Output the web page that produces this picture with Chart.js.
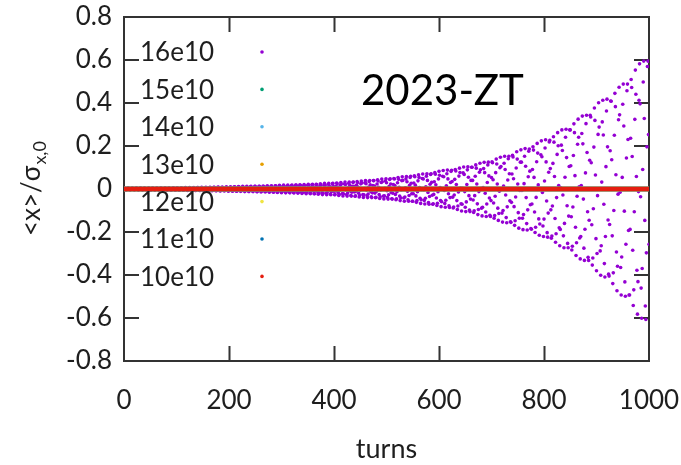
<!DOCTYPE html>
<html><head><meta charset="utf-8">
<script src="https://cdn.jsdelivr.net/npm/chart.js@4/dist/chart.umd.min.js"></script>
<style>html,body{margin:0;padding:0;background:#fff;}canvas{display:block;}</style>
</head><body>
<canvas id="c" width="681" height="465"></canvas>
<script>
// ---------- data ----------
const seriesLabels = ['16e10','15e10','14e10','13e10','12e10','11e10','10e10'];
const seriesColors = ['#9400d3','#009e73','#56b4e9','#e69f00','#f0e442','#0072b2','#e51e10'];

// 16e10 : <x>/sigma_x,0 at every turn, turns 0..1000
const y16e10 = [
.004,.003,0,-.002,-.004,-.003,0,.003,
.004,.003,0,-.003,-.004,-.002,.001,.003,
.004,.002,-.001,-.003,-.004,-.002,.001,.004,
.004,.002,-.002,-.004,-.004,-.001,.002,.004,
.004,.001,-.002,-.004,-.003,-.001,.003,.004,
.003,0,-.003,-.004,-.003,0,.003,.004,
.003,-.001,-.004,-.005,-.003,.001,.004,.005,
.002,-.001,-.004,-.005,-.002,.002,.004,.004,
.002,-.002,-.005,-.004,-.001,.003,.005,.004,
.001,-.003,-.005,-.004,-.001,.003,.005,.004,
0,-.004,-.006,-.004,0,.004,.005,.003,
-.001,-.005,-.006,-.003,.001,.005,.006,.003,
-.002,-.005,-.006,-.002,.002,.006,.005,.002,
-.003,-.006,-.005,-.002,.003,.006,.005,.001,
-.004,-.006,-.005,0,.004,.007,.005,0,
-.005,-.007,-.004,.001,.005,.007,.004,-.001,
-.006,-.007,-.004,.002,.006,.007,.003,-.002,
-.007,-.007,-.003,.003,.007,.007,.002,-.004,
-.007,-.007,-.002,.004,.008,.006,.001,-.005,
-.008,-.006,0,.006,.008,.006,0,-.006,
-.008,-.005,.001,.007,.008,.005,-.002,-.007,
-.008,-.004,.003,.008,.008,.004,-.003,-.008,
-.008,-.003,.004,.009,.008,.002,-.005,-.009,
-.008,-.002,.006,.009,.007,.001,-.006,-.009,
-.007,0,.007,.010,.007,-.001,-.008,-.010,
-.006,.002,.008,.010,.006,-.002,-.009,-.010,
-.005,.003,.010,.010,.004,-.004,-.010,-.010,
-.003,.005,.011,.010,.003,-.006,-.011,-.009,
-.002,.007,.012,.009,.001,-.008,-.012,-.008,
0,.009,.012,.008,-.001,-.010,-.012,-.007,
.002,.011,.012,.006,-.003,-.011,-.012,-.006,
.005,.012,.012,.005,-.006,-.013,-.012,-.004,
.007,.013,.012,.003,-.008,-.014,-.011,-.002,
.009,.014,.011,0,-.010,-.014,-.010,.001,
.011,.015,.009,-.002,-.012,-.015,-.008,.003,
.013,.015,.007,-.005,-.014,-.015,-.006,.006,
.015,.015,.005,-.007,-.016,-.014,-.004,.009,
.017,.014,.003,-.010,-.017,-.013,-.001,.011,
.018,.013,0,-.013,-.018,-.012,.001,.014,
.018,.011,-.003,-.015,-.018,-.010,.005,.016,
.018,.009,-.006,-.017,-.018,-.007,.008,.018,
.018,.006,-.010,-.019,-.017,-.004,.011,.020,
.017,.003,-.013,-.021,-.016,-.001,.014,.021,
.015,-.001,-.016,-.022,-.014,.002,.017,.022,
.013,-.005,-.019,-.022,-.011,.006,.020,.022,
.010,-.009,-.022,-.022,-.008,.010,.022,.021,
.007,-.013,-.024,-.021,-.005,.014,.024,.019,
.003,-.017,-.026,-.019,-.001,.018,.026,.017,
-.002,-.020,-.027,-.016,.004,.022,.026,.014,
-.006,-.024,-.027,-.013,.009,.025,.026,.011,
-.011,-.027,-.026,-.009,.013,.028,.025,.007,
-.016,-.030,-.025,-.005,.018,.030,.023,.002,
-.021,-.032,-.022,0,.023,.032,.021,-.003,
-.026,-.033,-.019,.006,.027,.032,.017,-.009,
-.030,-.033,-.015,.012,.031,.032,.013,-.014,
-.034,-.032,-.010,.018,.035,.030,.008,-.020,
-.037,-.030,-.005,.024,.037,.028,.001,-.026,
-.039,-.027,.002,.029,.039,.025,-.005,-.031,
-.040,-.023,.009,.035,.039,.020,-.012,-.036,
-.040,-.018,.016,.039,.039,.014,-.019,-.040,
-.039,-.011,.023,.043,.037,.008,-.026,-.044,
-.036,-.004,.030,.046,.034,0,-.033,-.046,
-.032,.003,.037,.048,.029,-.008,-.039,-.047,
-.027,.012,.044,.048,.023,-.016,-.045,-.047,
-.020,.021,.049,.047,.016,-.025,-.050,-.045,
-.013,.029,.053,.045,.008,-.033,-.054,-.041,
-.003,.039,.057,.040,-.001,-.042,-.057,-.037,
.006,.047,.058,.034,-.011,-.050,-.057,-.030,
.017,.054,.059,.027,-.022,-.057,-.057,-.022,
.028,.061,.057,.018,-.032,-.062,-.054,-.013,
.038,.066,.054,.007,-.043,-.067,-.050,-.002,
.049,.070,.047,-.003,-.053,-.070,-.043,.010,
.059,.071,.040,-.016,-.063,-.071,-.035,.022,
.068,.071,.031,-.029,-.071,-.069,-.025,.034,
.076,.069,.020,-.042,-.077,-.066,-.013,.047,
.082,.064,.007,-.054,-.082,-.059,0,.059,
.086,.057,-.007,-.067,-.085,-.052,.015,.071,
.088,.047,-.022,-.078,-.086,-.040,.030,.082,
.087,.035,-.038,-.088,-.084,-.028,.045,.091,
.084,.021,-.054,-.095,-.079,-.014,.060,.097,
.077,.005,-.069,-.102,-.071,.003,.075,.102,
.068,-.012,-.085,-.105,-.060,.021,.089,.103,
.055,-.031,-.098,-.105,-.047,.040,.101,.101,
.040,-.051,-.109,-.101,-.031,.059,.112,.097,
.023,-.069,-.119,-.095,-.012,.078,.120,.089,
.002,-.089,-.125,-.085,.007,.095,.124,.076,
-.020,-.107,-.128,-.070,.030,.112,.125,.061,
-.042,-.122,-.128,-.054,.053,.126,.122,.043,
-.065,-.136,-.123,-.034,.076,.139,.116,.023,
-.089,-.146,-.114,-.010,.099,.148,.105,-.001,
-.112,-.154,-.100,.014,.120,.152,.091,-.028,
-.133,-.157,-.083,.042,.141,.152,.071,-.055,
-.152,-.155,-.062,.070,.157,.149,.048,-.082,
-.169,-.148,-.037,.098,.173,.139,.023,-.110,
-.182,-.136,-.007,.125,.182,.125,-.007,-.136,
-.189,-.119,.025,.152,.188,.106,-.040,-.161,
-.191,-.097,.057,.176,.186,.083,-.073,-.184,
-.187,-.070,.091,.196,.181,.054,-.107,-.202,
-.178,-.039,.127,.212,.167,.019,-.139,-.215,
-.163,-.002,.159,.224,.150,-.016,-.172,-.221,
-.140,.037,.191,.229,.126,-.056,-.203,-.224,
-.112,.078,.219,.226,.095,-.097,-.229,-.219,
-.079,.119,.243,.218,.058,-.137,-.248,-.208,
-.040,.161,.262,.201,.016,-.180,-.264,-.188,
.006,.204,.275,.179,-.028,-.218,-.273,-.160,
.055,.241,.278,.146,-.078,-.253,-.273,-.126,
.105,.275,.275,.108,-.129,-.284,-.266,-.084,
.156,.303,.262,.062,-.178,-.309,-.250,-.034,
.208,.325,.241,.010,-.228,-.325,-.221,.016,
.258,.339,.210,-.047,-.275,-.332,-.187,.075,
.304,.343,.170,-.106,-.318,-.332,-.145,.134,
.343,.335,.122,-.166,-.354,-.321,-.092,.195,
.377,.319,.065,-.231,-.380,-.300,-.031,.254,
.401,.288,0,-.288,-.401,-.264,.032,.312,
.413,.251,-.071,-.347,-.409,-.221,.104,.363,
.418,.196,-.144,-.396,-.405,-.165,.178,.409,
.408,.136,-.218,-.440,-.390,-.100,.250,.445,
.383,.066,-.293,-.473,-.359,-.024,.322,.473,
.345,-.015,-.365,-.493,-.316,.054,.394,.488,
.293,-.103,-.432,-.499,-.257,.144,.457,.488,
.230,-.193,-.493,-.493,-.188,.236,.509,.472,
.151,-.285,-.542,-.469,-.106,.324,.553,.441,
.058,-.378,-.582,-.431,-.012,.413,.582,.396,
-.036,-.461,-.601,-.370,.091,.498,.595,.328,
-.146,-.544,-.607,-.297,.196,.570,.595,.253,
-.257
];
const firstTurn16e10 = 0;

// the other intensities stay at zero over the whole run
const flatTurns = [0, 1000];
const y15e10 = [0, 0];
const y14e10 = [0, 0];
const y13e10 = [0, 0];
const y12e10 = [0, 0];
const y11e10 = [0, 0];
const y10e10 = [0, 0];

const xTickValues = [0, 200, 400, 600, 800, 1000];
const xTickLabels = ['0', '200', '400', '600', '800', '1000'];
const yTickValues = [-0.8, -0.6, -0.4, -0.2, 0, 0.2, 0.4, 0.6, 0.8];
const yTickLabels = ['-0.8', '-0.6', '-0.4', '-0.2', '0', '0.2', '0.4', '0.6', '0.8'];
const xTitle = 'turns';
const yTitleMain = '<x>/σ';
const yTitleSub = 'x,0';
const annotationText = '2023-ZT';

// ---------- chart ----------
const FONT = 'Lato';
const TEXT = '#1e1e1e';
const flatSeries = [y15e10, y14e10, y13e10, y12e10, y11e10, y10e10];

const datasets = seriesLabels.map((lab, i) => {
  if (i === 0) {
    return {
      label: lab,
      data: y16e10.map((v, t) => ({x: firstTurn16e10 + t, y: v})),
      showLine: false,
      pointRadius: 1.8,
      pointHoverRadius: 1.8,
      pointBorderWidth: 0,
      pointBackgroundColor: seriesColors[0],
      backgroundColor: seriesColors[0],
      order: seriesLabels.length - 1 - i
    };
  }
  const ys = flatSeries[i - 1];
  return {
    label: lab,
    data: flatTurns.map((t, k) => ({x: t, y: ys[k]})),
    showLine: true,
    borderColor: seriesColors[i],
    backgroundColor: seriesColors[i],
    borderWidth: 4.5,
    pointRadius: 0,
    order: seriesLabels.length - 1 - i
  };
});

const decor = {
  id: 'decor',
  beforeDraw(chart) {
    const ctx = chart.ctx;
    ctx.save();
    ctx.fillStyle = '#fff';
    ctx.fillRect(0, 0, chart.width, chart.height);
    ctx.restore();
  },
  beforeDatasetsDraw(chart) {
    const ctx = chart.ctx;
    const {left, right, top, bottom} = chart.chartArea;
    const xs = chart.scales.x, ys = chart.scales.y;
    const TL = 15;
    ctx.save();
    ctx.strokeStyle = '#333';
    ctx.lineWidth = 2;
    ctx.beginPath();
    xTickValues.slice(1, -1).forEach(v => {
      const px = Math.round(xs.getPixelForValue(v)) + 0.5;
      ctx.moveTo(px, bottom); ctx.lineTo(px, bottom - TL);
      ctx.moveTo(px, top); ctx.lineTo(px, top + TL);
    });
    yTickValues.slice(1, -1).forEach(v => {
      const py = Math.round(ys.getPixelForValue(v));
      ctx.moveTo(left, py); ctx.lineTo(left + TL, py);
      ctx.moveTo(right, py); ctx.lineTo(right - TL, py);
    });
    ctx.stroke();
    ctx.strokeRect(left, top, right - left, bottom - top);
    ctx.restore();
  },
  afterDraw(chart) {
    const ctx = chart.ctx;
    ctx.save();
    // key inside the plot
    ctx.font = '26px ' + FONT;
    ctx.textBaseline = 'middle';
    ctx.textAlign = 'left';
    chart.data.datasets.forEach((ds, i) => {
      const y = 53 + i * 37.4;
      ctx.fillStyle = TEXT;
      ctx.fillText(ds.label, 140, y);
      ctx.fillStyle = seriesColors[i];
      ctx.beginPath();
      ctx.arc(262, y - 1, 1.8, 0, Math.PI * 2);
      ctx.fill();
    });
    // annotation
    ctx.font = '42px ' + FONT;
    ctx.fillStyle = '#000';
    ctx.textBaseline = 'alphabetic';
    ctx.fillText(annotationText, 361, 105);
    // y title with subscript
    ctx.translate(40, 236);
    ctx.rotate(-Math.PI / 2);
    ctx.fillStyle = TEXT;
    ctx.font = '26px ' + FONT;
    ctx.fillText(yTitleMain, 0, 0);
    const w = ctx.measureText(yTitleMain).width;
    ctx.font = '18px ' + FONT;
    ctx.fillText(yTitleSub, w + 1, 6);
    ctx.restore();
  }
};

new Chart(document.getElementById('c'), {
  type: 'scatter',
  data: {datasets},
  options: {
    responsive: false,
    animation: false,
    devicePixelRatio: 1,
    layout: {padding: {left: 0, right: 32, top: 17, bottom: 0}},
    plugins: {legend: {display: false}, tooltip: {enabled: false}},
    scales: {
      x: {
        type: 'linear', min: 0, max: 1000,
        afterBuildTicks: s => { s.ticks = xTickValues.map(v => ({value: v})); },
        afterFit: s => { s.height = 104; s.paddingLeft = 0; s.paddingRight = 0; },
        ticks: {callback: (v, i) => xTickLabels[i], font: {family: FONT, size: 26}, color: TEXT,
                padding: 24, maxRotation: 0, autoSkip: false},
        grid: {display: false, drawTicks: false},
        border: {display: false},
        title: {display: true, text: xTitle, font: {family: FONT, size: 27}, color: TEXT, padding: {top: 14, bottom: 0}}
      },
      y: {
        type: 'linear', min: -0.8, max: 0.8,
        afterBuildTicks: s => { s.ticks = yTickValues.map(v => ({value: v})); },
        afterFit: s => { s.width = 124; s.paddingTop = 0; s.paddingBottom = 0; },
        ticks: {callback: (v, i) => yTickLabels[i], font: {family: FONT, size: 26}, color: TEXT,
                padding: 12, autoSkip: false},
        grid: {display: false, drawTicks: false},
        border: {display: false}
      }
    }
  },
  plugins: [decor]
});
</script>
</body></html>
